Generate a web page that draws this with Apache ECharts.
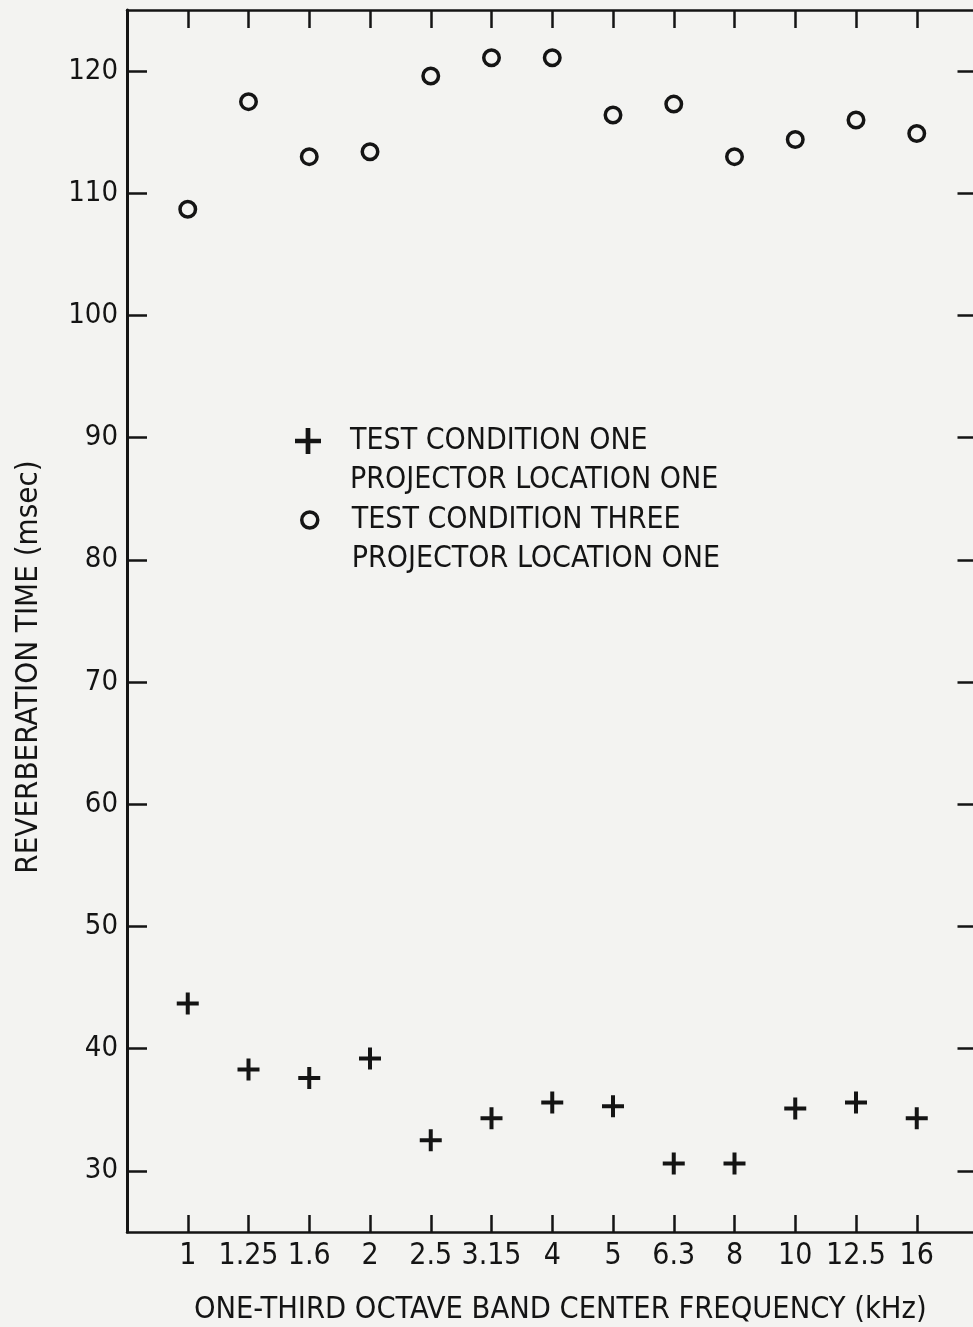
<!DOCTYPE html>
<html>
<head>
<meta charset="utf-8">
<script src="https://cdn.jsdelivr.net/npm/echarts@6/dist/echarts.min.js"></script>
<style>
  html, body { margin: 0; padding: 0; background: #f3f3f1; }
  #chart { width: 973px; height: 1327px; }
</style>
</head>
<body>
<div id="chart"></div>
<script>
// band centre frequencies (kHz), one per x slot 1..13
const freqLabels = ['1', '1.25', '1.6', '2', '2.5', '3.15', '4', '5', '6.3', '8', '10', '12.5', '16']
// reverberation time (msec)
const condOne = [43.7, 38.3, 37.6, 39.2, 32.5, 34.3, 35.6, 35.3, 30.6, 30.6, 35.1, 35.6, 34.3]
const condThree = [108.7, 117.5, 113.0, 113.4, 119.6, 121.1, 121.1, 116.4, 117.3, 113.0, 114.4, 116.0, 114.9]
const yTicks = [30, 40, 50, 60, 70, 80, 90, 100, 110, 120]
const seriesNames = [
  'TEST CONDITION ONE\nPROJECTOR LOCATION ONE',
  'TEST CONDITION THREE\nPROJECTOR LOCATION ONE'
]

const font = "'Liberation Sans Narrow', 'DejaVu Sans Condensed', 'Roboto Condensed', 'Liberation Sans', sans-serif"
const ink = '#141414'
const plus = 'path://M4.5,0h2v4.5h4.5v2h-4.5v4.5h-2v-4.5h-4.5v-2h4.5z'

// legend text: a blank first line keeps the marker level with the first text line
function legendText(name) { return '\n' + name }

var myChart = echarts.init(document.getElementById('chart'))
var option

option = {
  backgroundColor: '#f3f3f1',
  animation: false,
  textStyle: { fontFamily: font, color: ink },
  grid: { left: 127, top: 10, width: 850.5, height: 1222, outerBoundsMode: 'none' },
  legend: [
    {
      orient: 'vertical', left: 295, top: 382.5, padding: 0,
      itemWidth: 26, itemHeight: 26,
      formatter: legendText,
      textStyle: { fontFamily: font, fontSize: 30, color: ink, lineHeight: 39, padding: [0, 0, 0, 24] },
      data: [{ name: seriesNames[0], itemStyle: { color: ink, opacity: 1 } }]
    },
    {
      orient: 'vertical', left: 300, top: 461.5, padding: 0,
      itemWidth: 16, itemHeight: 16,
      formatter: legendText,
      textStyle: { fontFamily: font, fontSize: 30, color: ink, lineHeight: 39, padding: [0, 0, 0, 29] },
      data: [{ name: seriesNames[1], icon: 'circle', itemStyle: { color: 'rgba(0,0,0,0)', borderColor: ink, borderWidth: 3.5, opacity: 1 } }]
    }
  ],
  xAxis: [
    {
      type: 'value', min: 0, max: 14, interval: 1,
      name: 'ONE-THIRD OCTAVE BAND CENTER FREQUENCY (kHz)',
      nameLocation: 'middle',
      nameGap: 63,
      nameTextStyle: { fontFamily: font, fontSize: 30.5, color: ink, padding: [0, 0, 0, 16] },
      splitLine: { show: false },
      axisLine: { onZero: false, lineStyle: { color: ink, width: 2.5 } },
      axisTick: { inside: true, length: 17, lineStyle: { color: ink, width: 2.5 } },
      axisLabel: {
        fontFamily: font, fontSize: 30, color: ink, margin: 9,
        formatter: function (v) { return freqLabels[v - 1] || '' }
      }
    },
    {
      type: 'value', min: 0, max: 14, interval: 1, position: 'top',
      splitLine: { show: false },
      axisLine: { onZero: false, lineStyle: { color: ink, width: 2.5 } },
      axisTick: { inside: true, length: 18, lineStyle: { color: ink, width: 2.5 } },
      axisLabel: { show: false }
    }
  ],
  yAxis: [
    {
      type: 'value', min: 25, max: 125, position: 'left',
      name: 'REVERBERATION TIME (msec)',
      nameLocation: 'middle',
      nameGap: 83,
      nameTextStyle: { fontFamily: font, fontSize: 31, color: ink, padding: [0, 92, 0, 0] },
      splitLine: { show: false },
      axisLine: { onZero: false, lineStyle: { color: ink, width: 3 } },
      axisTick: { inside: true, length: 20, customValues: yTicks, lineStyle: { color: ink, width: 2.5 } },
      axisLabel: { fontFamily: font, fontSize: 29, color: ink, margin: 9, customValues: yTicks }
    },
    {
      type: 'value', min: 25, max: 125, position: 'right',
      splitLine: { show: false },
      axisLine: { onZero: false, lineStyle: { color: ink, width: 3 } },
      axisTick: { inside: true, length: 20, customValues: yTicks, lineStyle: { color: ink, width: 2.5 } },
      axisLabel: { show: false }
    }
  ],
  series: [
    {
      name: seriesNames[0],
      type: 'scatter',
      symbol: plus,
      symbolSize: 22,
      itemStyle: { color: ink, opacity: 1 },
      data: condOne.map((v, i) => [i + 1, v])
    },
    {
      name: seriesNames[1],
      type: 'scatter',
      symbol: 'circle',
      symbolSize: 15.5,
      itemStyle: { color: 'rgba(0,0,0,0)', borderColor: ink, borderWidth: 3.5, opacity: 1 },
      data: condThree.map((v, i) => [i + 1, v])
    }
  ]
}

option && myChart.setOption(option)
</script>
</body>
</html>
